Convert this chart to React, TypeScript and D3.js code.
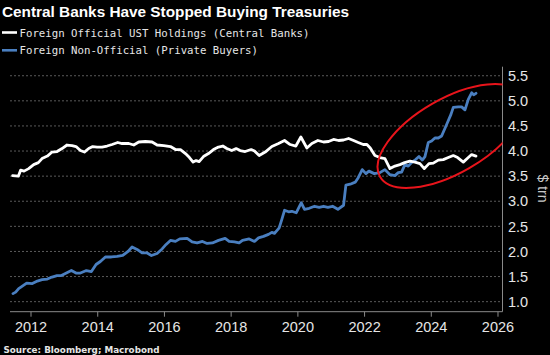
import React from "react";
import * as d3 from "d3";

const title = "Central Banks Have Stopped Buying Treasuries";
const legendLabels = [
  "Foreign Official UST Holdings (Central Banks)",
  "Foreign Non-Official (Private Buyers)",
];
const sourceText = "Source: Bloomberg; Macrobond";
const unitLabel = "$ trn";

const xTicks = [2012, 2014, 2016, 2018, 2020, 2022, 2024, 2026];
const yTicks = [1.0, 1.5, 2.0, 2.5, 3.0, 3.5, 4.0, 4.5, 5.0, 5.5];

// Foreign official holdings (central banks), $ trn
const officialDates = [
  2011.45, 2011.62, 2011.69, 2011.79, 2011.93, 2012.08, 2012.22, 2012.33, 2012.49, 2012.63,
  2012.78, 2012.93, 2013.08, 2013.23, 2013.35, 2013.48, 2013.6, 2013.73, 2013.85, 2013.98,
  2014.13, 2014.28, 2014.43, 2014.6, 2014.73, 2014.93, 2015.08, 2015.23, 2015.43, 2015.63,
  2015.78, 2015.98, 2016.18, 2016.33, 2016.48, 2016.63, 2016.75, 2016.86, 2016.95, 2017.04,
  2017.17, 2017.32, 2017.47, 2017.62, 2017.75, 2017.87, 2018.02, 2018.15, 2018.27, 2018.42,
  2018.6, 2018.7, 2018.84, 2019.02, 2019.22, 2019.42, 2019.6, 2019.77, 2019.94, 2020.09,
  2020.27, 2020.42, 2020.6, 2020.77, 2020.92, 2021.07, 2021.22, 2021.37, 2021.52, 2021.67,
  2021.81, 2021.96, 2022.07, 2022.17, 2022.31, 2022.46, 2022.61, 2022.76, 2022.91, 2023.06,
  2023.2, 2023.36, 2023.51, 2023.66, 2023.79, 2023.93, 2024.06, 2024.21, 2024.36, 2024.51,
  2024.66, 2024.79, 2024.96, 2025.11, 2025.21, 2025.34,
];
const officialValues = [
  3.51, 3.5, 3.62, 3.6, 3.65, 3.73, 3.77, 3.85, 3.9, 3.98,
  3.99, 4.05, 4.12, 4.11, 4.09, 4.01, 3.98, 4.05, 4.09, 4.08,
  4.08, 4.1, 4.13, 4.17, 4.15, 4.15, 4.12, 4.18, 4.19, 4.18,
  4.12, 4.11, 4.09, 4.03, 4.03, 3.95, 3.87, 3.78, 3.81, 3.79,
  3.89, 3.95, 4.03, 4.08, 4.1, 4.05, 4.01, 4.05, 4.01, 3.99,
  4.03, 4.0, 3.91, 3.98, 4.09, 4.15, 4.21, 4.13, 4.1, 4.28,
  4.06, 4.15, 4.21, 4.18, 4.19, 4.23, 4.21, 4.22, 4.25, 4.21,
  4.17, 4.13, 4.13, 4.06, 3.91, 3.87, 3.85, 3.65, 3.7, 3.73,
  3.77, 3.8, 3.78, 3.75, 3.65, 3.75, 3.76, 3.82, 3.83, 3.87,
  3.91, 3.87, 3.78, 3.87, 3.93, 3.9,
];

// Foreign non-official holdings (private buyers), $ trn
const privateDates = [
  2011.46, 2011.54, 2011.63, 2011.74, 2011.87, 2012.04, 2012.19, 2012.33, 2012.49, 2012.63,
  2012.78, 2012.91, 2013.03, 2013.21, 2013.35, 2013.48, 2013.66, 2013.81, 2013.95, 2014.08,
  2014.23, 2014.41, 2014.58, 2014.75, 2014.91, 2015.03, 2015.18, 2015.33, 2015.48, 2015.61,
  2015.78, 2015.93, 2016.05, 2016.18, 2016.33, 2016.46, 2016.68, 2016.83, 2016.98, 2017.14,
  2017.28, 2017.44, 2017.62, 2017.82, 2017.94, 2018.1, 2018.24, 2018.34, 2018.54, 2018.7,
  2018.82, 2018.97, 2019.12, 2019.22, 2019.3, 2019.44, 2019.52, 2019.6, 2019.72, 2019.82,
  2019.95, 2020.1, 2020.2, 2020.34, 2020.5, 2020.64, 2020.77, 2020.9, 2021.04, 2021.2,
  2021.37, 2021.44, 2021.57, 2021.72, 2021.81, 2021.93, 2022.04, 2022.13, 2022.29, 2022.46,
  2022.61, 2022.76, 2022.91, 2023.01, 2023.11, 2023.21, 2023.31, 2023.41, 2023.53, 2023.63,
  2023.73, 2023.81, 2023.91, 2024.01, 2024.11, 2024.21, 2024.31, 2024.46, 2024.59, 2024.66,
  2024.81, 2024.91, 2025.01, 2025.11, 2025.21, 2025.27, 2025.34,
];
const privateValues = [
  1.16, 1.19, 1.26, 1.31, 1.37, 1.36, 1.41, 1.44, 1.45, 1.49,
  1.52, 1.52, 1.56, 1.62, 1.57, 1.57, 1.62, 1.6, 1.74, 1.8,
  1.89, 1.89, 1.9, 1.92, 2.0, 2.09, 2.04, 1.97, 1.97, 1.92,
  1.96, 2.05, 2.14, 2.22, 2.2, 2.25, 2.26, 2.19, 2.17, 2.2,
  2.16, 2.17, 2.22, 2.26, 2.2, 2.19, 2.17, 2.22, 2.25, 2.2,
  2.27, 2.3, 2.34, 2.38, 2.36, 2.47, 2.64, 2.82, 2.79, 2.8,
  2.77, 2.97, 2.84, 2.86, 2.9, 2.88, 2.9, 2.88, 2.9, 2.84,
  2.92, 3.32, 3.34, 3.38, 3.47, 3.63, 3.55, 3.6, 3.55, 3.57,
  3.63, 3.53, 3.51, 3.57, 3.58, 3.73, 3.7, 3.77, 3.83, 3.89,
  3.82, 3.89, 4.17, 4.2, 4.26, 4.26, 4.3, 4.53, 4.73, 4.87,
  4.88, 4.88, 4.82, 5.03, 5.16, 5.12, 5.15,
];

// annotation ellipse center (year, $ trn)
const highlightCenter = [2024.58, 4.3];

const W = 550;
const H = 355;
const plot = { left: 10, right: 502.5, top: 66.7, bottom: 311.7 };

const WHITE = "#ffffff";
const BLUE = "#4a7fc0";
const RED = "#e8141b";
const GRID = "#5a5a5a";
const AXIS = "#8a8a8a";
const LABEL = "#e6e6e6";

export default function App() {
  const x = d3.scaleLinear().domain([2011.37, 2026.12]).range([plot.left, 502]);
  const y = d3.scaleLinear().domain([0.8, 5.68]).range([plot.bottom, plot.top]);

  const line = d3
    .line<[number, number]>()
    .x((d) => x(d[0]))
    .y((d) => y(d[1]));

  const official = officialDates.map((d, i) => [d, officialValues[i]] as [number, number]);
  const priv = privateDates.map((d, i) => [d, privateValues[i]] as [number, number]);

  const cx = x(highlightCenter[0]);
  const cy = y(highlightCenter[1]);

  return (
    <svg
      width={W}
      height={H}
      style={{ position: "absolute", left: 0, top: 0, display: "block" }}
    >
      <defs>
        <clipPath id="plotclip">
          <rect x={plot.left} y={0} width={plot.right - plot.left} height={plot.bottom} />
        </clipPath>
      </defs>
      <rect x={0} y={0} width={W} height={H} fill="#000" />

      <text
        x={2}
        y={17}
        fill={WHITE}
        fontFamily="'Liberation Sans', Arial, sans-serif"
        fontWeight="bold"
        fontSize={15.5}
        textLength={347}
        lengthAdjust="spacingAndGlyphs"
      >
        {title}
      </text>

      {/* legend */}
      <line x1={2} x2={17} y1={32.5} y2={32.5} stroke={WHITE} strokeWidth={2.6} />
      <text
        x={19.5}
        y={36.7}
        fill={LABEL}
        fontFamily="'DejaVu Sans Mono', monospace"
        fontSize={10.8}
        textLength={290}
        lengthAdjust="spacingAndGlyphs"
      >
        {legendLabels[0]}
      </text>
      <line x1={2} x2={17} y1={50.3} y2={50.3} stroke={BLUE} strokeWidth={2.6} />
      <text
        x={19.5}
        y={54.3}
        fill={LABEL}
        fontFamily="'DejaVu Sans Mono', monospace"
        fontSize={10.8}
        textLength={238.5}
        lengthAdjust="spacingAndGlyphs"
      >
        {legendLabels[1]}
      </text>

      {/* gridlines */}
      {yTicks.map((t) => (
        <line
          key={"g" + t}
          x1={plot.left}
          x2={500}
          y1={y(t)}
          y2={y(t)}
          stroke={GRID}
          strokeWidth={1}
          strokeDasharray="2,2"
        />
      ))}

      {/* axes */}
      <line x1={plot.left} x2={plot.right} y1={plot.bottom} y2={plot.bottom} stroke={AXIS} strokeWidth={1} />
      <line x1={plot.right} x2={plot.right} y1={plot.top} y2={plot.bottom} stroke={AXIS} strokeWidth={1} />
      {xTicks.map((t) => (
        <g key={"x" + t}>
          <line x1={x(t)} x2={x(t)} y1={plot.bottom} y2={plot.bottom + 5} stroke={AXIS} strokeWidth={1} />
          <text
            x={x(t)}
            y={332}
            textAnchor="middle"
            fill={LABEL}
            fontFamily="'Liberation Sans', Arial, sans-serif"
            fontSize={14.5}
          >
            {t}
          </text>
        </g>
      ))}
      {yTicks.map((t) => (
        <text
          key={"y" + t}
          x={508}
          y={y(t)}
          dy="0.36em"
          fill={LABEL}
          fontFamily="'Liberation Sans', Arial, sans-serif"
          fontSize={14.5}
        >
          {t.toFixed(1)}
        </text>
      ))}
      <text
        transform={`translate(538, 188.5) rotate(90)`}
        textAnchor="middle"
        fill="#c8c8c8"
        fontFamily="'Liberation Sans', Arial, sans-serif"
        fontSize={14}
      >
        {unitLabel}
      </text>

      {/* series */}
      <path
        d={line(priv) || ""}
        fill="none"
        stroke={BLUE}
        strokeWidth={2.8}
        strokeLinejoin="round"
        strokeLinecap="round"
      />
      <path
        d={line(official) || ""}
        fill="none"
        stroke={WHITE}
        strokeWidth={2.8}
        strokeLinejoin="round"
        strokeLinecap="round"
      />

      {/* highlight ellipse */}
      <g clipPath="url(#plotclip)">
        <ellipse
          cx={cx}
          cy={cy}
          rx={81.5}
          ry={37.2}
          transform={`rotate(-30 ${cx} ${cy})`}
          fill="none"
          stroke={RED}
          strokeWidth={2}
        />
      </g>

      <text
        x={3.5}
        y={352.5}
        fill={LABEL}
        fontFamily="'DejaVu Sans', Verdana, sans-serif"
        fontWeight="bold"
        fontSize={9.5}
        textLength={156}
        lengthAdjust="spacingAndGlyphs"
      >
        {sourceText}
      </text>
    </svg>
  );
}
